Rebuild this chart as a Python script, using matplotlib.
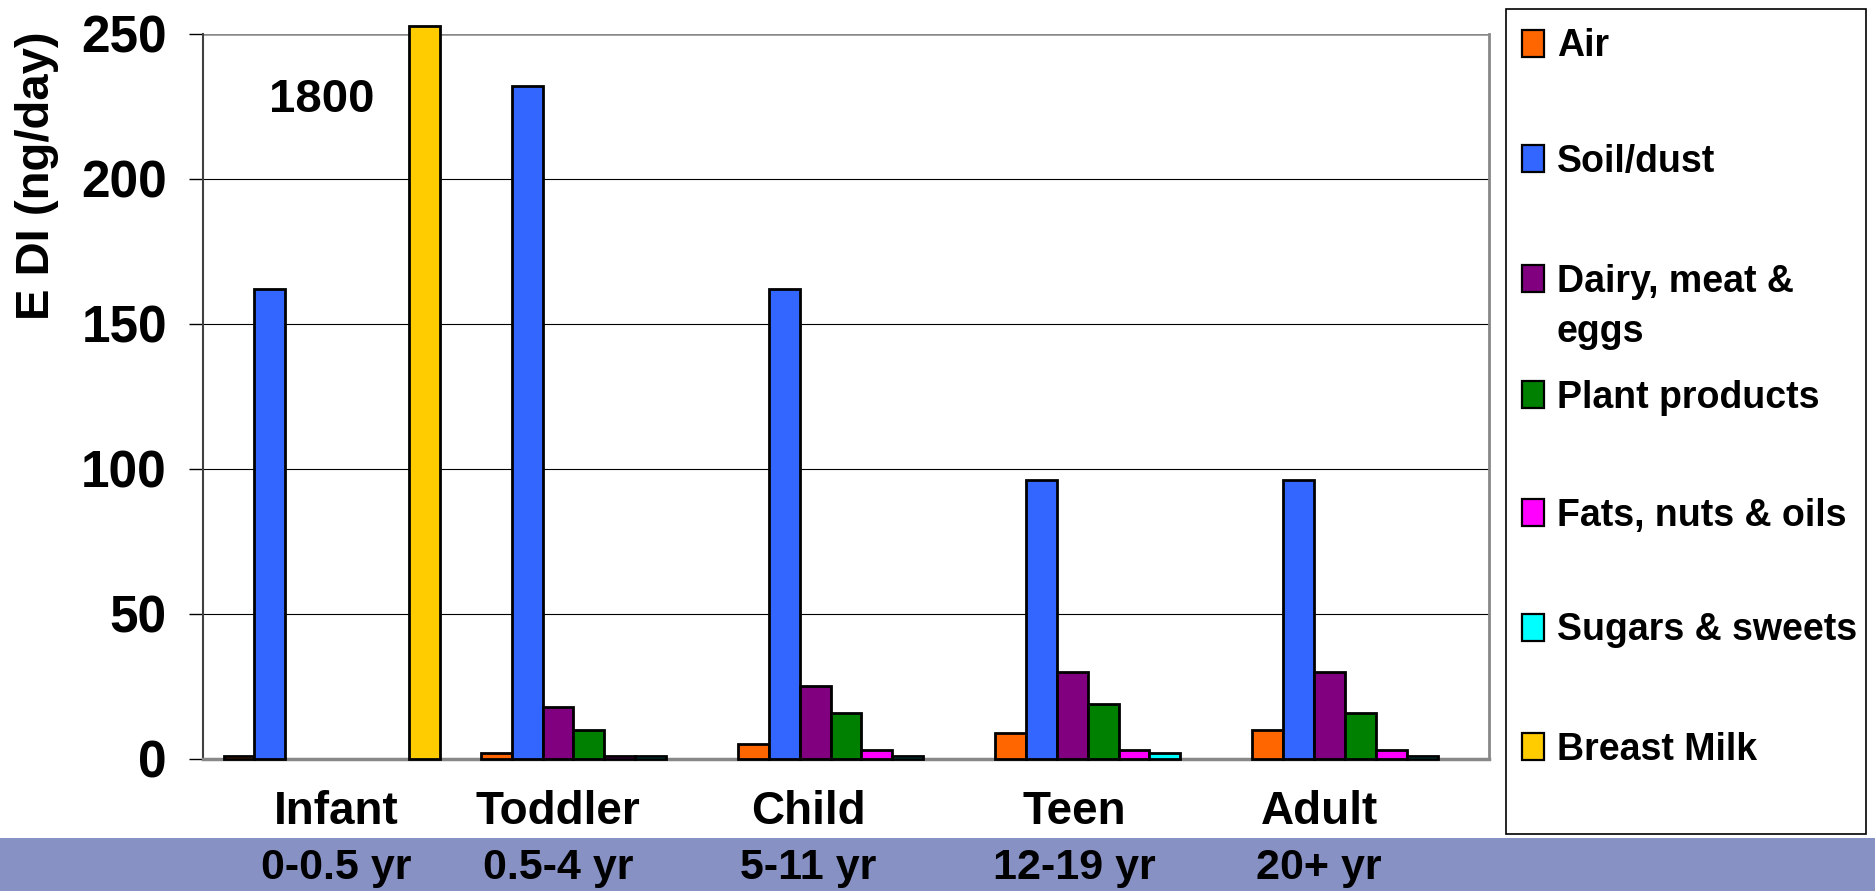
import numpy as np
import matplotlib.pyplot as plt
from matplotlib.patches import Rectangle

# data (ng/day)
groups = ["Infant", "Toddler", "Child", "Teen", "Adult"]
ages = ["0-0.5 yr", "0.5-4 yr", "5-11 yr", "12-19 yr", "20+ yr"]
sources = ["Air", "Soil/dust", "Dairy, meat &\neggs", "Plant products",
           "Fats, nuts & oils", "Sugars & sweets", "Breast Milk"]
air = [1, 2, 5, 9, 10]
soil = [162, 232, 162, 96, 96]
dairy = [0, 18, 25, 30, 30]
plant = [0, 10, 16, 19, 16]
fats = [0, 1, 3, 3, 3]
sugars = [0, 1, 1, 2, 1]
breast_milk = [1800, 0, 0, 0, 0]
yticks = [0, 50, 100, 150, 200, 250]

colors = ["#FF6600", "#3366FF", "#800080", "#008000", "#FF00FF", "#00FFFF", "#FFCC00"]
series = [air, soil, dairy, plant, fats, sugars, breast_milk]

W, H = 1875, 891
font = ["Liberation Sans", "DejaVu Sans"]
narrow = ["Liberation Sans Narrow", "Liberation Sans", "DejaVu Sans"]


def fx(px):
    return px / W


def fy(py):
    return 1 - py / H


fig = plt.figure(figsize=(W / 100, H / 100), dpi=100)
fig.patch.set_facecolor("white")

# blue band along the bottom
fig.patches.append(Rectangle((0, 0), 1, 53 / H, transform=fig.transFigure,
                             facecolor="#8891C4", edgecolor="none", zorder=0))

ax = fig.add_axes([fx(203), fy(759), fx(1489 - 203), (759 - 33.5) / H])
ymax = 250

x = np.arange(len(groups))
w = 0.12
for j, (vals, c) in enumerate(zip(series, colors)):
    # bars taller than the axis are cut just above the top, like the original
    h = [min(v, ymax * 1.01) for v in vals]
    ec = ["black" if v > 0 else "none" for v in vals]
    ax.bar(x + (j - 3) * w, h, w, color=c, edgecolor=ec, linewidth=2.0,
           zorder=3, clip_on=False)

ax.text(-0.04, 223, str(breast_milk[0]), ha="center", va="baseline",
        fontsize=34, fontweight="bold", family=font)

ax.set_xlim(-0.5, len(groups) - 0.5)
ax.set_ylim(0, ymax)
ax.set_xticks([])
ax.set_yticks(yticks)
ax.set_yticklabels([str(t) for t in yticks], fontsize=37, fontweight="bold",
                   family=narrow)
ax.tick_params(axis="y", length=10, width=1, color="black", pad=16, direction="out")
for t in yticks[1:-1]:
    ax.axhline(t, color="black", linewidth=0.8, zorder=1)
ax.axhline(ymax, color="#888888", linewidth=1.8, zorder=1)
ax.spines["top"].set_visible(False)
ax.spines["right"].set_color("#888888")
ax.spines["right"].set_linewidth(2)
ax.spines["bottom"].set_color("#888888")
ax.spines["bottom"].set_linewidth(2.5)
ax.spines["left"].set_color("#404040")
ax.spines["left"].set_linewidth(1.5)

fig.text(fx(37), fy(176), "E DI (ng/day)", rotation=90, ha="center", va="center",
         fontsize=34, fontweight="bold", family=font)

# group labels (text boxes under the plot)
label_x = [336, 558, 808, 1074, 1319]
for lx, g, a in zip(label_x, groups, ages):
    fig.text(fx(lx), fy(824), g, ha="center", va="baseline", fontsize=33,
             fontweight="bold", family=font)
    fig.text(fx(lx), fy(879), a, ha="center", va="baseline", fontsize=31,
             fontweight="bold", family=font)

# legend box
fig.patches.append(Rectangle((fx(1506), fy(834)), fx(1866 - 1506), (834 - 9) / H,
                             transform=fig.transFigure, facecolor="white",
                             edgecolor="black", linewidth=1.2, zorder=1))
leg_y = [43, 158, 278, 394, 512, 627, 746]
for ly, name, c in zip(leg_y, sources, colors):
    fig.patches.append(Rectangle((fx(1522), fy(ly + 13.5)), fx(22), 27 / H,
                                 transform=fig.transFigure, facecolor=c,
                                 edgecolor="black", linewidth=1.6, zorder=2))
    for k, line in enumerate(name.split("\n")):
        fig.text(fx(1557), fy(ly + 13.5 + 50 * k), line, ha="left", va="baseline",
                 fontsize=27, fontweight="bold", family=font)

fig.savefig("out.png", dpi=100)
